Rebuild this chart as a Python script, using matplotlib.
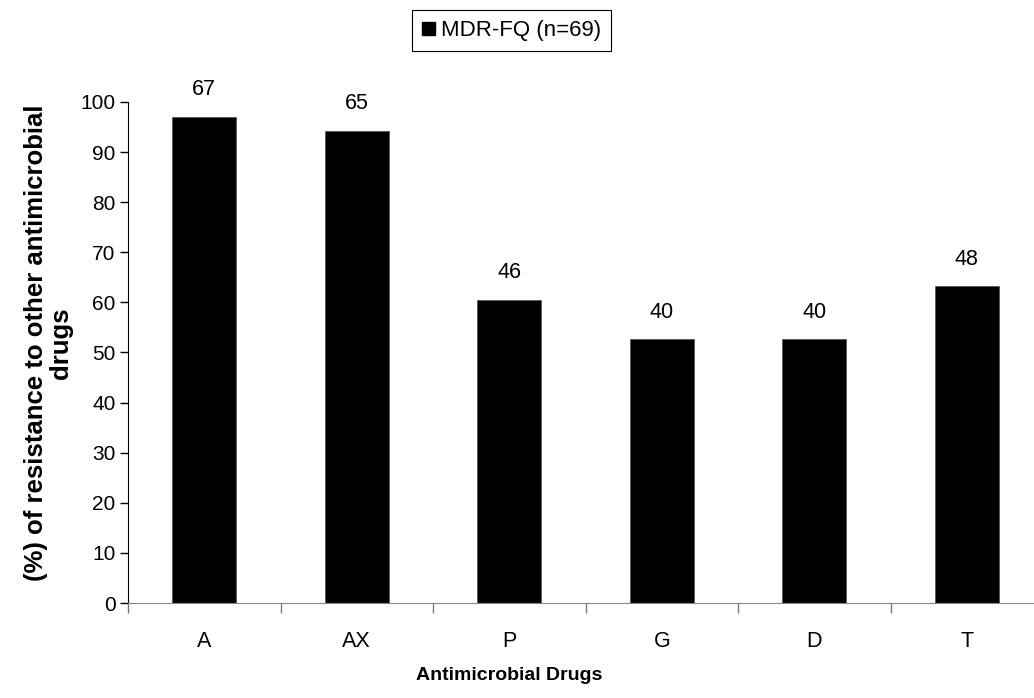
import matplotlib.pyplot as plt
from matplotlib.patches import Patch

plt.rcParams['font.family'] = ['Liberation Sans', 'DejaVu Sans']

# Drugs tested and resistance of the MDR-FQ isolates
drugs = ['A', 'AX', 'P', 'G', 'D', 'T']
resistant_counts = [67, 65, 46, 40, 40, 48]
resistance_pct = [97.1, 94.2, 60.5, 52.6, 52.6, 63.2]

fig = plt.figure(figsize=(10.34, 6.98), dpi=100)
ax = fig.add_axes([0.1238, 0.1361, 0.885, 0.7178])

x = list(range(len(drugs)))
bars = ax.bar(x, resistance_pct, width=0.42, color='black', edgecolor='#555555', linewidth=0.6)

# Count of resistant isolates over each bar
for xi, h, n in zip(x, resistance_pct, resistant_counts):
    ax.annotate(str(n), (xi, h), xytext=(0, 19.5), textcoords='offset points',
                ha='center', va='center', fontsize=15.5)

ax.set_xlim(-0.5, len(drugs) - 0.5)
ax.set_ylim(0, 100)
ax.set_yticks(range(0, 101, 10))
ax.tick_params(axis='y', labelsize=15, length=6, width=1, direction='out', pad=3)

# Category ticks sit between bars, labels centred under bars
ax.set_xticks([i - 0.5 for i in range(len(drugs) + 1)])
ax.set_xticklabels([])
ax.set_xticks(x, minor=True)
ax.set_xticklabels(drugs, minor=True, fontsize=15.5)
ax.tick_params(axis='x', which='major', length=7, width=1, color='#777777')
ax.tick_params(axis='x', which='minor', length=0, pad=20)

ax.spines['top'].set_visible(False)
ax.spines['right'].set_visible(False)
ax.spines['bottom'].set_color('#888888')
ax.spines['left'].set_color('black')

ax.set_xlabel('Antimicrobial Drugs', fontsize=14, weight='bold')
ax.xaxis.set_label_coords(0.417, -0.127)
ax.set_ylabel('(%) of resistance to other antimicrobial\ndrugs', fontsize=18.5,
              weight='bold', linespacing=1.05)
ax.yaxis.set_label_coords(-0.06, 0.519)

leg = fig.legend(handles=[Patch(facecolor='black', edgecolor='black', label='MDR-FQ (n=69)')],
                 loc='center', bbox_to_anchor=(0.495, 0.956), fontsize=16,
                 fancybox=False, edgecolor='black', handlelength=0.55, handleheight=0.55,
                 handletextpad=0.3, borderpad=0.45, borderaxespad=0, framealpha=1)
leg.get_frame().set_linewidth(0.8)

plt.savefig('out.png', dpi=100)
